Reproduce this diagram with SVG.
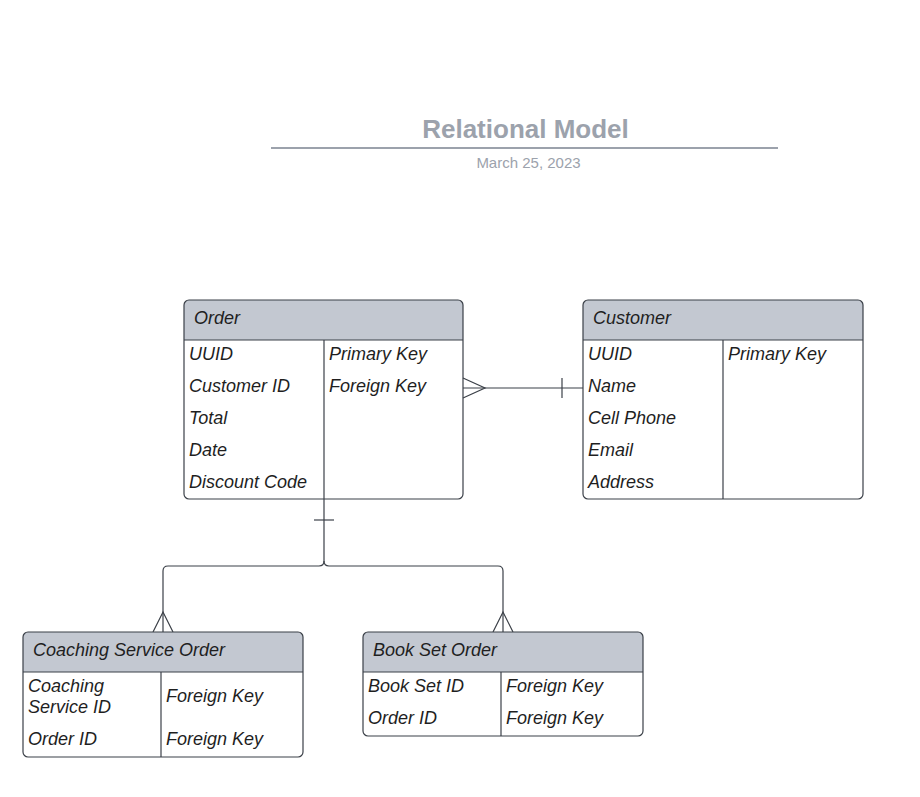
<svg xmlns="http://www.w3.org/2000/svg" width="920" height="797" viewBox="0 0 920 797">
<style>
.box{fill:#ffffff;stroke:#3b4048;stroke-width:1.2}
.hdr{fill:#c3c8d1}
.ln{stroke:#3b4048;stroke-width:1.2;fill:none}
.t{font-family:"Liberation Sans",Arial,sans-serif;font-size:18px;font-style:italic;fill:#1f1f1f}
.con{stroke:#3b4048;stroke-width:1.2;fill:none}
</style>
<rect width="920" height="797" fill="#ffffff"/>
<g id="title">
<text x="525.5" y="138" text-anchor="middle" font-family="'Liberation Sans',Arial,sans-serif" font-size="26" font-weight="bold" fill="#9ca2ac">Relational Model</text>
<line x1="271" y1="148" x2="778" y2="148" stroke="#9ca2ac" stroke-width="2"/>
<text x="528.5" y="168" text-anchor="middle" font-family="'Liberation Sans',Arial,sans-serif" font-size="15" fill="#9ca2ac">March 25, 2023</text>
</g>
<g id="connectors">
<line class="con" x1="463" y1="388" x2="583" y2="388"/>
<polyline class="con" points="463,378 485,388 463,398"/>
<line class="con" x1="562" y1="378" x2="562" y2="398"/>
<path class="con" d="M324,499 V561 Q324,566 319,566 H168 Q163,566 163,571 V632"/>
<path class="con" d="M324,561 Q324,566 329,566 H498 Q503,566 503,571 V632"/>
<line class="con" x1="314" y1="520" x2="334" y2="520"/>
<polyline class="con" points="153,632 163,612 173,632"/>
<polyline class="con" points="493,632 503,612 513,632"/>
</g>
<g id="order">
<path class="hdr" d="M189,300 H458 Q463,300 463,305 V340 H184 V305 Q184,300 189,300 Z"/>
<rect class="box" x="184" y="300" width="279" height="199" rx="5" style="fill:none"/>
<line class="ln" x1="184" y1="340" x2="463" y2="340"/>
<line class="ln" x1="324" y1="340" x2="324" y2="499"/>
<text class="t" x="194" y="324">Order</text>
<text class="t" x="189" y="360">UUID</text>
<text class="t" x="189" y="392">Customer ID</text>
<text class="t" x="189" y="424">Total</text>
<text class="t" x="189" y="456">Date</text>
<text class="t" x="189" y="488">Discount Code</text>
<text class="t" x="329" y="360">Primary Key</text>
<text class="t" x="329" y="392">Foreign Key</text>
</g>
<g id="customer">
<path class="hdr" d="M588,300 H858 Q863,300 863,305 V340 H583 V305 Q583,300 588,300 Z"/>
<rect class="box" x="583" y="300" width="280" height="199" rx="5" style="fill:none"/>
<line class="ln" x1="583" y1="340" x2="863" y2="340"/>
<line class="ln" x1="723" y1="340" x2="723" y2="499"/>
<text class="t" x="593" y="324">Customer</text>
<text class="t" x="588" y="360">UUID</text>
<text class="t" x="588" y="392">Name</text>
<text class="t" x="588" y="424">Cell Phone</text>
<text class="t" x="588" y="456">Email</text>
<text class="t" x="588" y="488">Address</text>
<text class="t" x="728" y="360">Primary Key</text>
</g>
<g id="coaching">
<path class="hdr" d="M28,632 H298 Q303,632 303,637 V672 H23 V637 Q23,632 28,632 Z"/>
<rect class="box" x="23" y="632" width="280" height="125" rx="5" style="fill:none"/>
<line class="ln" x1="23" y1="672" x2="303" y2="672"/>
<line class="ln" x1="161" y1="672" x2="161" y2="757"/>
<text class="t" x="33" y="656">Coaching Service Order</text>
<text class="t" x="28" y="692">Coaching</text>
<text class="t" x="28" y="713">Service ID</text>
<text class="t" x="28" y="745">Order ID</text>
<text class="t" x="166" y="702">Foreign Key</text>
<text class="t" x="166" y="745">Foreign Key</text>
</g>
<g id="bookset">
<path class="hdr" d="M368,632 H638 Q643,632 643,637 V672 H363 V637 Q363,632 368,632 Z"/>
<rect class="box" x="363" y="632" width="280" height="104" rx="5" style="fill:none"/>
<line class="ln" x1="363" y1="672" x2="643" y2="672"/>
<line class="ln" x1="501" y1="672" x2="501" y2="736"/>
<text class="t" x="373" y="656">Book Set Order</text>
<text class="t" x="368" y="692">Book Set ID</text>
<text class="t" x="368" y="724">Order ID</text>
<text class="t" x="506" y="692">Foreign Key</text>
<text class="t" x="506" y="724">Foreign Key</text>
</g>
</svg>
